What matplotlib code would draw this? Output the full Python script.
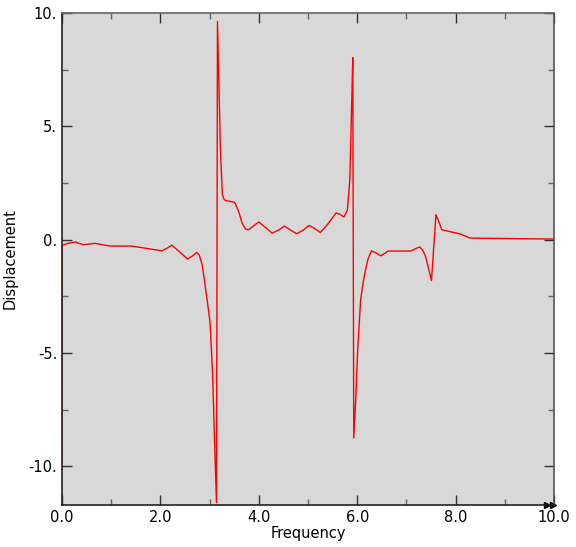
import matplotlib
matplotlib.use("Agg")
import matplotlib.pyplot as plt
from matplotlib.ticker import MultipleLocator, FuncFormatter

# values
freq = [0.0, 0.005, 0.12, 0.27, 0.43, 0.67, 0.98, 1.42, 2.03, 2.13, 2.23,
        2.4, 2.55, 2.65, 2.74, 2.79, 2.85, 2.95, 3.01, 3.06, 3.10, 3.14,
        3.16, 3.22, 3.26, 3.29, 3.32, 3.51, 3.59, 3.66, 3.73, 3.79, 3.9, 4.0,
        4.13, 4.27, 4.4, 4.52, 4.65, 4.77, 4.9, 5.02, 5.13, 5.25, 5.4, 5.57,
        5.65, 5.73, 5.8, 5.85, 5.89, 5.91, 5.93, 5.97, 6.01, 6.07, 6.12, 6.17,
        6.22, 6.29, 6.38, 6.48, 6.56, 6.63, 7.09, 7.2, 7.27, 7.33, 7.39, 7.51,
        7.6, 7.65, 7.72, 8.1, 8.3, 10.0]
disp = [-10.15, -0.25, -0.16, -0.10, -0.22, -0.16, -0.28, -0.28, -0.49, -0.38,
        -0.24, -0.55, -0.85, -0.72, -0.56, -0.68, -1.1, -2.65, -3.66, -5.87,
        -8.83, -11.6, 9.62, 3.97, 2.0, 1.8, 1.73, 1.65, 1.25, 0.74, 0.47, 0.44,
        0.62, 0.78, 0.55, 0.29, 0.42, 0.6, 0.42, 0.26, 0.42, 0.63, 0.5, 0.32,
        0.68, 1.18, 1.12, 1.0, 1.3, 2.65, 6.2, 8.03, -8.74, -7.06, -4.85,
        -2.65, -1.9, -1.32, -0.85, -0.49, -0.58, -0.71, -0.6, -0.5, -0.5,
        -0.38, -0.32, -0.45, -0.74, -1.8, 1.1, 0.85, 0.44, 0.25, 0.07, 0.03]

fig = plt.figure(figsize=(5.76, 5.47), dpi=100)
ax = fig.add_axes([62 / 576, 1 - 505 / 547, 492 / 576, 492 / 547])
ax.set_facecolor('#d8d8d8')

ax.plot(freq, disp, color='red', lw=1.0)

ax.set_xlim(0, 10)
ax.set_ylim(-11.7, 10)

ax.xaxis.set_major_locator(MultipleLocator(2))
ax.xaxis.set_minor_locator(MultipleLocator(1))
ax.yaxis.set_major_locator(MultipleLocator(5))
ax.yaxis.set_minor_locator(MultipleLocator(2.5))
ax.xaxis.set_major_formatter(FuncFormatter(lambda v, p: f'{v:.1f}'))
ax.yaxis.set_major_formatter(FuncFormatter(lambda v, p: f'{v:.0f}.'))

ax.tick_params(which='both', direction='in', top=True, right=True,
               labelsize=10.5, colors='#333333', labelcolor='black')
ax.tick_params(which='major', length=7, width=1)
ax.tick_params(which='minor', length=4, width=1, colors='#666666')

for s in ax.spines.values():
    s.set_color('#222222')
    s.set_linewidth(1.2)
ax.spines['top'].set_color('#666666')
ax.spines['right'].set_color('#555555')

ax.set_xlabel('Frequency', fontsize=10.5, labelpad=1)
ax.set_ylabel('Displacement', fontsize=10.5, labelpad=8)

# double arrow marker at the end of the x axis
ax.plot([0.985, 0.997], [0, 0], marker='>', color='black', ms=5, lw=0,
        transform=ax.transAxes, clip_on=False)

fig.savefig('out.png', dpi=100)
